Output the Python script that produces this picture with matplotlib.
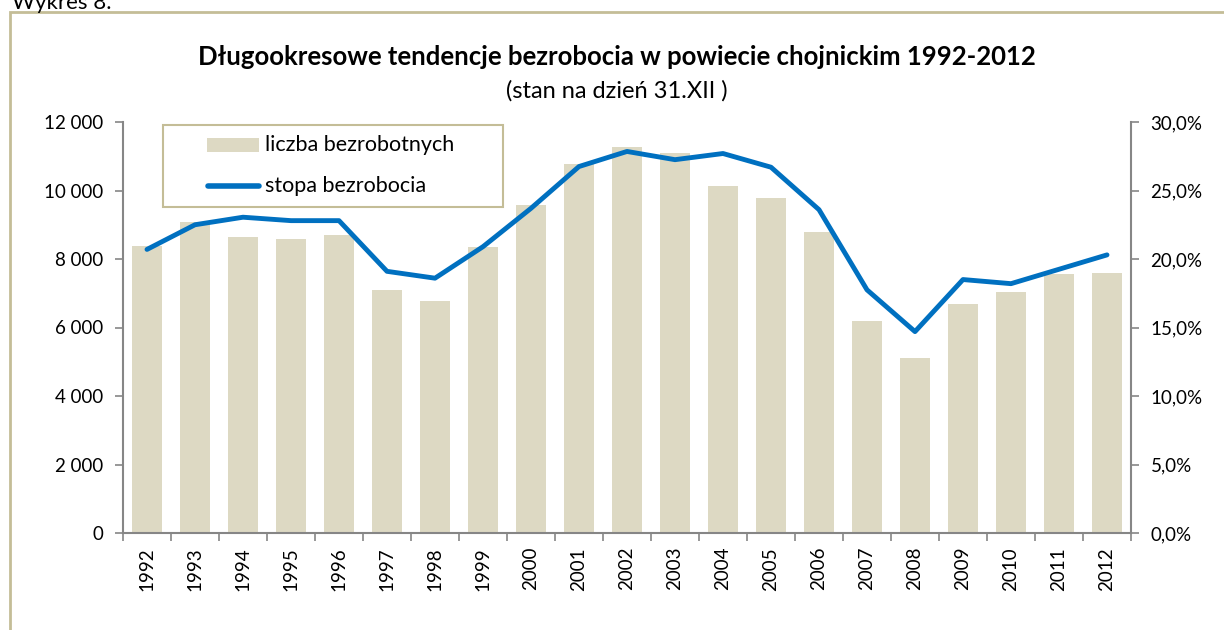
import matplotlib
matplotlib.use("Agg")
import matplotlib.pyplot as plt
from matplotlib.patches import Rectangle
from matplotlib.lines import Line2D
import numpy as np

years = [str(y) for y in range(1992, 2013)]
unemployed = [8380, 9080, 8630, 8590, 8700, 7100, 6780, 8360, 9580, 10760, 11270,
              11100, 10130, 9780, 8790, 6190, 5100, 6680, 7040, 7560, 7590]
rate = [20.7, 22.5, 23.05, 22.8, 22.8, 19.1, 18.6, 20.9, 23.7, 26.75, 27.85,
        27.25, 27.7, 26.7, 23.6, 17.75, 14.7, 18.5, 18.2, 19.25, 20.3]
left_ticks = [0, 2000, 4000, 6000, 8000, 10000, 12000]
right_ticks = [0, 5, 10, 15, 20, 25, 30]
legend_labels = ["liczba bezrobotnych", "stopa bezrobocia"]

plt.rcParams['font.family'] = ['Lato', 'DejaVu Sans']
BAR = '#DDD9C3'
LINE = '#0070C0'
AX = '#868686'
FRAME = '#C4BD97'
W, H = 1224, 630

fig = plt.figure(figsize=(W/100, H/100), dpi=100)


def fx(px):
    return px / W


def fy(py):
    return 1 - py / H


fig.patches.append(Rectangle((fx(10), -0.1), 1.2, fy(12) + 0.1,
                             transform=fig.transFigure, fill=False,
                             edgecolor=FRAME, linewidth=2))
fig.text(fx(12), fy(9), "Wykres 8.", fontsize=16, va='baseline', ha='left')

ax = fig.add_axes([fx(123), fy(533), (1131-123)/W, (533-122)/H])
x = np.arange(len(years))
ax.bar(x, unemployed, width=0.63, color=BAR, zorder=2)
ax.set_xlim(-0.5, len(years) - 0.5)
ax.set_ylim(0, 12000)
ax.set_yticks(left_ticks)
ax.set_yticklabels([f"{v:,}".replace(",", " ") for v in left_ticks], fontsize=13.5)
ax.set_xticks(x)
ax.set_xticklabels(years, rotation=90, fontsize=13.5)
ax.set_xticks(np.arange(-0.5, len(years)), minor=True)
ax.tick_params(axis='x', which='major', length=0, pad=10)
ax.tick_params(axis='x', which='minor', length=6, color=AX, width=1.2)
ax.tick_params(axis='y', length=6, color=AX, width=1.2, pad=8)
for s in ['top', 'right']:
    ax.spines[s].set_visible(False)
ax.spines['left'].set_color(AX)
ax.spines['bottom'].set_color(AX)
ax.spines['left'].set_linewidth(1.5)
ax.spines['bottom'].set_linewidth(1.5)

ax2 = ax.twinx()
ax2.plot(x, rate, color=LINE, linewidth=3.5, solid_capstyle='round', zorder=3)
ax2.set_ylim(0, 30)
ax2.set_yticks(right_ticks)
ax2.set_yticklabels([f"{v:.1f}%".replace(".", ",") for v in right_ticks], fontsize=13.5)
ax2.tick_params(axis='y', length=6, color=AX, width=1.2, pad=8)
for s in ['top', 'left', 'bottom']:
    ax2.spines[s].set_visible(False)
ax2.spines['right'].set_color(AX)
ax2.spines['right'].set_linewidth(1.5)

# legend (drawn as a box with handles, like the spreadsheet original)
fig.patches.append(Rectangle((fx(163), fy(207)), (503-163)/W, (207-125)/H,
                             transform=fig.transFigure, facecolor='white',
                             edgecolor=FRAME, linewidth=1.5, zorder=5))
fig.patches.append(Rectangle((fx(207), fy(152)), (259-207)/W, (152-138)/H,
                             transform=fig.transFigure, facecolor=BAR,
                             edgecolor='none', zorder=6))
fig.lines.append(Line2D([fx(208), fx(259)], [fy(186), fy(186)],
                        transform=fig.transFigure, color=LINE, linewidth=4,
                        solid_capstyle='round', zorder=6))
fig.text(fx(265), fy(145), legend_labels[0], fontsize=15.5, va='center', ha='left', zorder=7)
fig.text(fx(265), fy(186), legend_labels[1], fontsize=15.5, va='center', ha='left', zorder=7)

fig.text(fx(617), fy(57), "Długookresowe tendencje bezrobocia w powiecie chojnickim 1992-2012",
         fontsize=18.5, fontweight='bold', ha='center', va='center')
fig.text(fx(617), fy(91), "(stan na dzień 31.XII )", fontsize=17, ha='center', va='center')

fig.savefig("out.png", dpi=100)
